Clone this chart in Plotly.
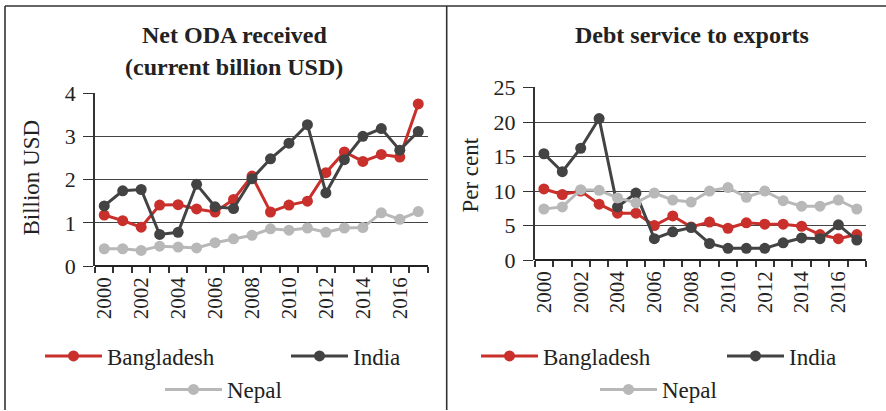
import plotly.graph_objects as go

years = list(range(2000, 2018))

# Net ODA received (current billion USD)
oda_bangladesh = [1.18, 1.05, 0.90, 1.41, 1.42, 1.32, 1.25, 1.54, 2.08, 1.25, 1.41, 1.50, 2.16, 2.64, 2.42, 2.58, 2.52, 3.75]
oda_india      = [1.39, 1.74, 1.77, 0.73, 0.78, 1.89, 1.37, 1.33, 2.02, 2.48, 2.84, 3.27, 1.69, 2.46, 3.00, 3.18, 2.68, 3.11]
oda_nepal      = [0.40, 0.40, 0.36, 0.46, 0.44, 0.42, 0.54, 0.63, 0.71, 0.86, 0.83, 0.88, 0.78, 0.88, 0.89, 1.23, 1.08, 1.26]

# Debt service to exports (per cent)
ds_bangladesh = [10.3, 9.5, 10.0, 8.1, 6.8, 6.8, 5.0, 6.4, 4.8, 5.5, 4.6, 5.4, 5.2, 5.2, 4.9, 3.7, 3.1, 3.7]
ds_india      = [15.4, 12.8, 16.2, 20.5, 7.7, 9.7, 3.1, 4.1, 4.7, 2.4, 1.7, 1.7, 1.7, 2.5, 3.2, 3.1, 5.1, 2.9]
ds_nepal      = [7.4, 7.7, 10.2, 10.1, 9.0, 8.3, 9.7, 8.7, 8.4, 10.0, 10.5, 9.1, 10.0, 8.6, 7.8, 7.8, 8.7, 7.4]

year_ticks = list(range(2000, 2017, 2))
boundaries = [y - 0.5 for y in range(2000, 2019)]
oda_ticks = [0, 1, 2, 3, 4]
ds_ticks = [0, 5, 10, 15, 20, 25]

countries = ["Bangladesh", "India", "Nepal"]
colors = {"Bangladesh": "#C9302C", "India": "#434343", "Nepal": "#B8B8B8"}

W, H = 886, 411
def px(x):
    return x / W
def py(y):
    return 1 - y / H

FONT = "Liberation Serif"
fig = go.Figure()

oda = {"Bangladesh": oda_bangladesh, "India": oda_india, "Nepal": oda_nepal}
ds = {"Bangladesh": ds_bangladesh, "India": ds_india, "Nepal": ds_nepal}

li = 1
for c in countries:
    fig.add_trace(go.Scatter(x=years, y=oda[c], name=c, mode="lines+markers",
                             line=dict(color=colors[c], width=3),
                             marker=dict(color=colors[c], size=11),
                             xaxis="x", yaxis="y",
                             legend="legend" if li == 1 else f"legend{li}"))
    li += 1
for c in countries:
    fig.add_trace(go.Scatter(x=years, y=ds[c], name=c, mode="lines+markers",
                             line=dict(color=colors[c], width=3),
                             marker=dict(color=colors[c], size=11),
                             xaxis="x2", yaxis="y2",
                             legend=f"legend{li}"))
    li += 1

def xaxis_cfg(domain, anchor):
    return dict(domain=domain, anchor=anchor, range=[1999.5, 2017.5], automargin=False,
                tickmode="array", tickvals=year_ticks, ticktext=[str(y) for y in year_ticks],
                tickangle=-90, ticks="", showgrid=False, zeroline=False,
                showline=False, ticklabelstandoff=6,
                tickfont=dict(family=FONT, size=21, color="#222"),
                minor=dict(tickmode="array", tickvals=boundaries, ticks="outside",
                           ticklen=6, tickwidth=1.5, tickcolor="#333", showgrid=False),
                fixedrange=True)

def yaxis_cfg(domain, anchor, rng, tv):
    return dict(domain=domain, anchor=anchor, range=rng, tickmode="array", tickvals=tv,
                automargin=False,
                ticks="outside", ticklen=10, tickwidth=1.3, tickcolor="#333",
                showgrid=True, gridcolor="#444", gridwidth=1.3,
                zeroline=True, zerolinecolor="#222", zerolinewidth=1.6,
                showline=True, linecolor="#333", linewidth=1.5,
                ticklabelstandoff=3,
                tickfont=dict(family=FONT, size=22, color="#222"),
                fixedrange=True)

leg_common = dict(orientation="h", xanchor="left", yanchor="middle",
                  font=dict(family=FONT, size=23, color="#222"),
                  bgcolor="rgba(0,0,0,0)", itemwidth=57, tracegroupgap=0)

layout = dict(
    template="none",
    width=W, height=H, margin=dict(l=0, r=0, t=0, b=0, pad=0),
    paper_bgcolor="white", plot_bgcolor="white",
    showlegend=True,
    xaxis=xaxis_cfg([px(95), px(427.5)], "y"),
    yaxis=yaxis_cfg([py(266.7), py(93.3)], "x", [0, 4], oda_ticks),
    xaxis2=xaxis_cfg([px(534.7), px(866)], "y2"),
    yaxis2=yaxis_cfg([py(260.7), py(87.7)], "x2", [0, 25], ds_ticks),
)

leg_pos = [(40, 356), (286, 356), (160, 390), (476, 356), (722, 356), (595, 390)]
for i, (lx, ly) in enumerate(leg_pos, start=1):
    key = "legend" if i == 1 else f"legend{i}"
    layout[key] = dict(leg_common, x=px(lx), y=py(ly))

fig.update_layout(**layout)

def ann(x, y, text, size, angle=0):
    fig.add_annotation(x=px(x), y=py(y), xref="paper", yref="paper", showarrow=False,
                       xanchor="center", yanchor="middle", textangle=angle,
                       text=text, font=dict(family=FONT, size=size, color="#222"))

# Titles
ann(234, 35, "<b>Net ODA received</b>", 24)
ann(234, 67, "<b>(current billion USD)</b>", 24)
ann(692, 35, "<b>Debt service to exports</b>", 24)
# Axis titles
ann(32, 178, "Billion USD", 23, -90)
ann(471, 176, "Per cent", 23, -90)

# Panel frame
frame = dict(type="line", xref="paper", yref="paper", line=dict(color="#333", width=1.6))
fig.add_shape(frame, x0=px(5), x1=1, y0=py(6), y1=py(6))
fig.add_shape(frame, x0=px(5), x1=px(5), y0=py(6), y1=0)
fig.add_shape(frame, x0=px(446.7), x1=px(446.7), y0=py(6), y1=0)

fig.write_html("out.html", config={"displayModeBar": False},
               post_script="document.body.style.margin='0';document.body.style.overflow='hidden';")
